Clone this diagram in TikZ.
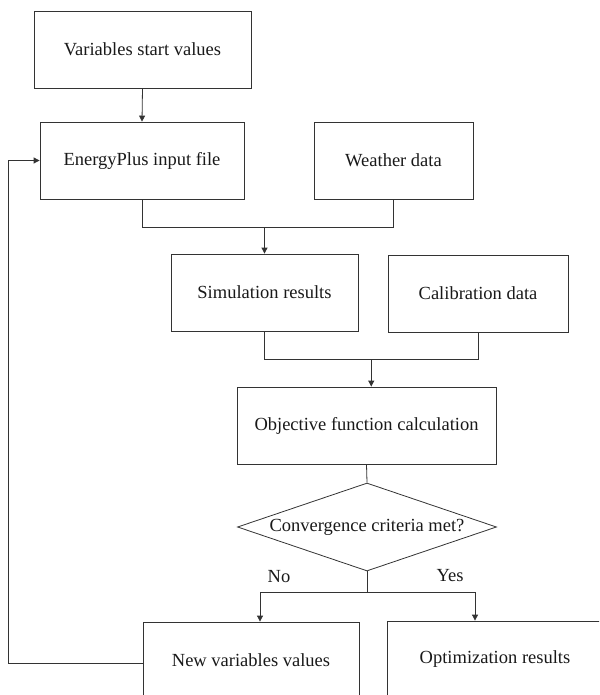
\documentclass[tikz,border=0pt]{standalone}
\usepackage{fontspec}
\setmainfont{Liberation Serif}
\usetikzlibrary{shapes.geometric,arrows.meta,calc}
\begin{document}
\begin{tikzpicture}[x=1pt,y=-1pt,
  line width=0.8pt,
  box/.style={draw=black!80,rectangle,minimum height=77pt,inner sep=0pt,
    font=\fontsize{18.5}{22}\selectfont,text=black!90},
  dia/.style={draw=black!80,diamond,aspect=2.943,minimum width=259pt,minimum height=88pt,
    inner sep=0pt,font=\fontsize{18.5}{22}\selectfont,text=black!90},
  lab/.style={font=\fontsize{18.5}{22}\selectfont,text=black!90},
  arr/.style={-{Triangle[length=6pt,width=6pt]}},
  conn/.style={draw=black!80}]
\useasboundingbox (0,0) rectangle (599,695);
\clip (0,0) rectangle (599,695);

\node[box,minimum width=217pt] (vsv) at (142.5,49.5) {Variables start values};
\node[box,minimum width=204pt] (epi) at (142,160.5) {EnergyPlus input file};
\node[box,minimum width=159pt] (wd) at (393.5,160.5) {Weather data};
\node[box,minimum width=187pt] (sim) at (264.5,292.5) {Simulation results};
\node[box,minimum width=180pt] (cal) at (478,293.5) {Calibration data};
\node[box,minimum width=259pt] (obj) at (366.5,425.5) {Objective function calculation};
\node[dia] (conv) at (367,527) {Convergence criteria met?};
\node[box,minimum width=216pt] (nvv) at (251,660.5) {New variables values};
\node[box,minimum width=216pt] (opt) at (495,659.5) {Optimization results};

\node[lab] (no) at (279,577) {No};
\node[lab] (yes) at (450,576) {Yes};

\coordinate (m1) at (0,227);
\coordinate (m2) at (0,359);
\coordinate (m3) at (0,592);
\coordinate (fb) at (8,0);

% start -> input file
\draw[conn,arr] (vsv.south) -- (epi.north);
% input file + weather -> simulation
\draw[conn] (epi.south) -- (epi.south |- m1) -- (wd.south |- m1) -- (wd.south);
\draw[conn,arr] (sim.north |- m1) -- (sim.north);
% simulation + calibration -> objective
\draw[conn] (sim.south) -- (sim.south |- m2) -- (cal.south |- m2) -- (cal.south);
\coordinate (m2c) at ($(sim.south |- m2)!0.5!(cal.south |- m2)$);
\draw[conn,arr] (m2c) -- (m2c |- obj.north);
% objective -> decision
\draw[conn] (obj.south) -- (conv.north);
% decision -> branches
\draw[conn] (conv.south) -- (conv.south |- m3);
\draw[conn,arr] (conv.south |- m3) -- ($(nvv.north |- m3)+(9,0)$) -- ($(nvv.north)+(9,0)$);
\draw[conn,arr] (conv.south |- m3) -- ($(opt.north |- m3)+(-20,0)$) -- ($(opt.north)+(-20,0)$);
% feedback loop
\draw[conn,arr] ($(nvv.west)+(0,2.5)$) -- ($(fb |- nvv.west)+(0,2.5)$) -- (fb |- epi.west) -- (epi.west);
\end{tikzpicture}
\end{document}
